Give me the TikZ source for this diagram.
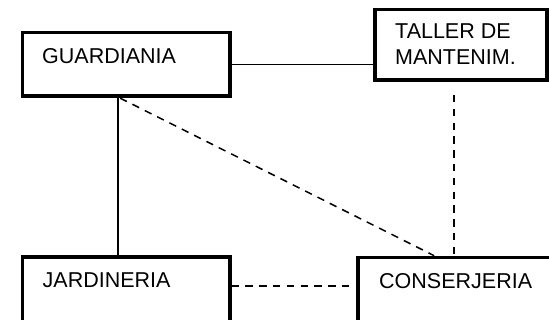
\documentclass[tikz,border=0pt]{standalone}
\usepackage{fontspec}
\setmainfont{Liberation Sans}
\begin{document}
\begin{tikzpicture}[x=1pt,y=-1pt,
  box/.style={draw=black, line width=3.6pt, rectangle, inner sep=0pt, fill=none},
  lbl/.style={anchor=base west, inner sep=0pt, font=\fontsize{21.5}{26}\selectfont},
  solidcon/.style={line width=1.5pt},
  dashcon/.style={line width=1.5pt, dash pattern=on 7.5pt off 6.3pt}]
\useasboundingbox (0,0) rectangle (549,320);
\clip (0,0) rectangle (549,320);
% boxes
\node[box, minimum width=207.2pt, minimum height=63.6pt] (G) at (126.1,64.5) {};
\node[box, minimum width=172.3pt, minimum height=70.3pt] (T) at (460.85,44.65) {};
\node[box, minimum width=207.2pt, minimum height=73pt] (J) at (126.1,293.5) {};
\node[box, minimum width=202pt, minimum height=72.5pt] (C) at (459,293.75) {};
% labels
\node[lbl] (gt) at (42,64) {GUARDIANIA};
\node[lbl] (tt1) at (395,39) {TALLER DE};
\node[lbl] (tt2) at (395,65) {MANTENIM.};
\node[lbl] (jt) at (42.5,288) {JARDINERIA};
\node[lbl] (ct) at (379,288.3) {CONSERJERIA};
% connectors
\draw[solidcon] (G.east) -- (G.east -| T.west);
\draw[solidcon] ([xshift=-8pt]G.south) -- ([xshift=-8pt]G.south |- J.north);
\draw[dashcon] ([xshift=-6pt]G.south) -- ([xshift=78pt]C.north west);
\coordinate (tv) at (454,95);
\draw[dashcon] (tv) -- (tv |- C.north);
\draw[dashcon] ([yshift=-31pt]J.north east) -- ([yshift=-31pt]J.north east -| C.west);
\end{tikzpicture}
\end{document}
